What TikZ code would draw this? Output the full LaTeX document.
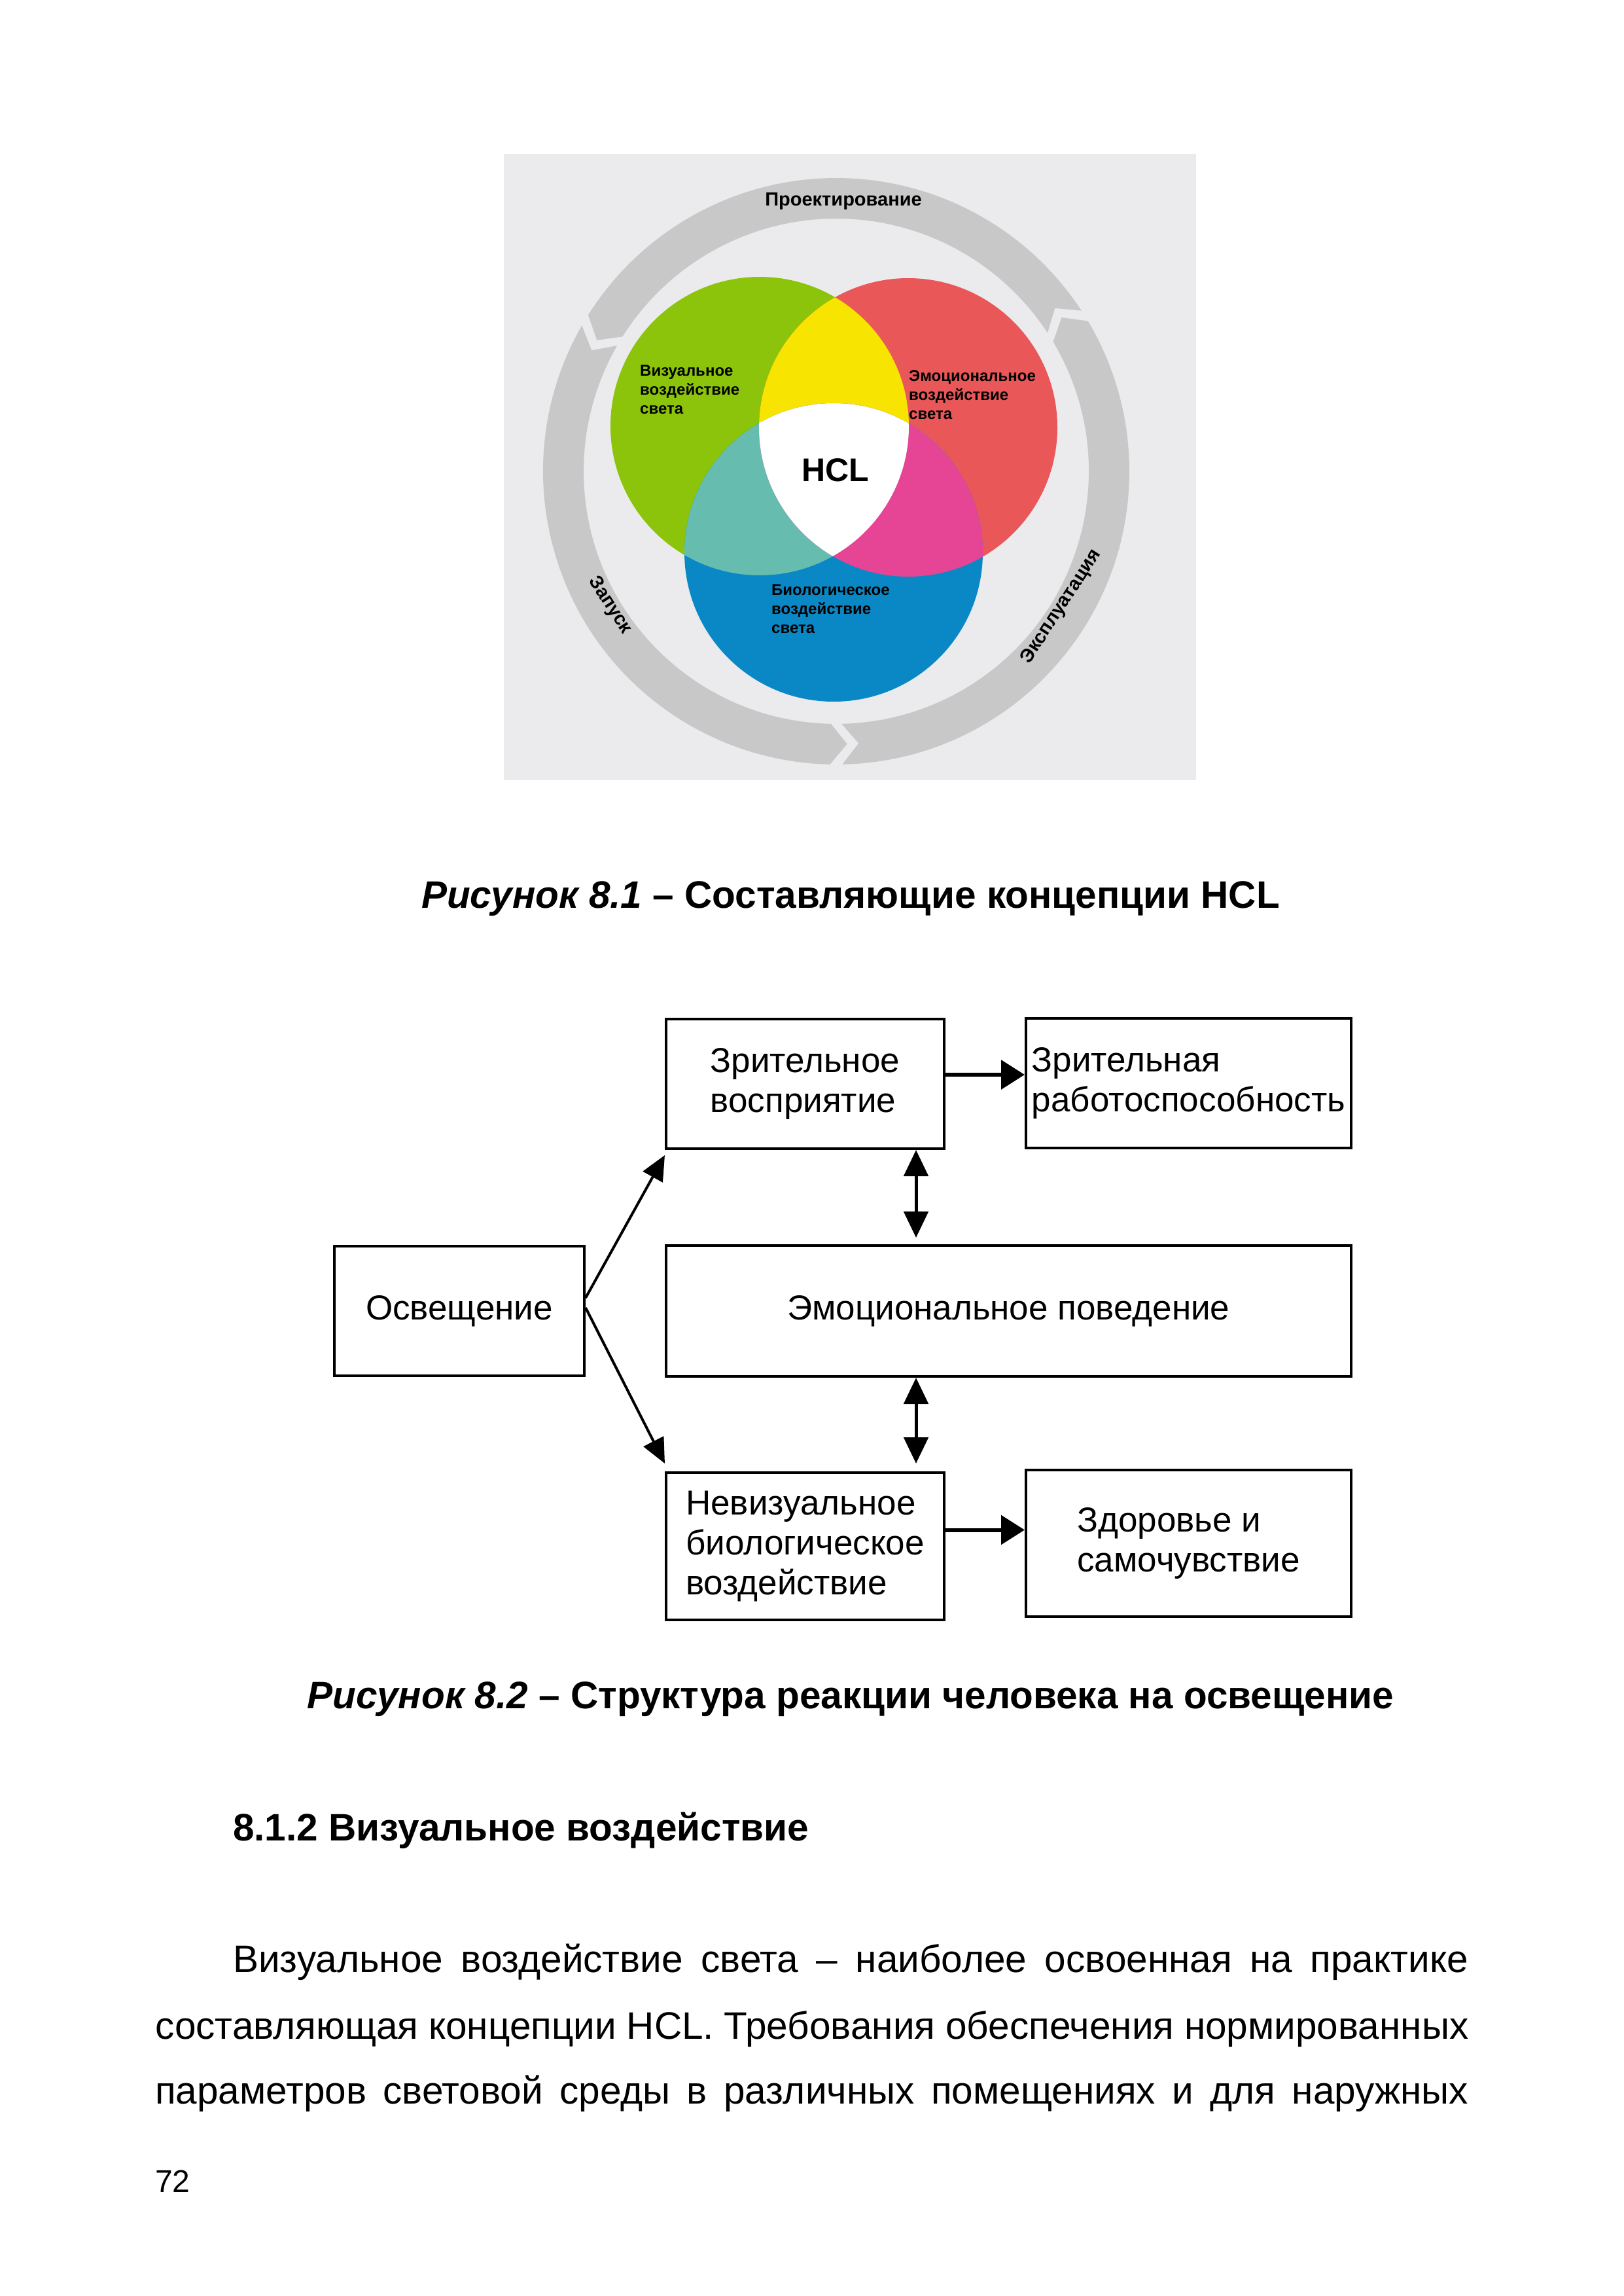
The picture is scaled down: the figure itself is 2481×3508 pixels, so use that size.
\documentclass[tikz,border=0pt]{standalone}
\usepackage{fontspec}
\setmainfont{Liberation Sans}
\usetikzlibrary{arrows.meta,calc}
\definecolor{bggray}{HTML}{EBEBED}
\definecolor{ringgray}{HTML}{C8C8C8}
\definecolor{vgreen}{HTML}{8BC40A}
\definecolor{vred}{HTML}{E95758}
\definecolor{vblue}{HTML}{0A88C5}
\definecolor{vyellow}{HTML}{F7E400}
\definecolor{vteal}{HTML}{66BCAE}
\definecolor{vmag}{HTML}{E64595}
\begin{document}
\begin{tikzpicture}[x=1pt,y=1pt,
  diabox/.style={draw=black,line width=4pt,inner sep=0pt,align=left,font=\fontsize{53}{61}\selectfont},
  lbl/.style={inner sep=0pt,align=left,font=\fontsize{24}{29}\selectfont\bfseries},
  ringlbl/.style={inner sep=0pt,font=\fontsize{29}{34}\selectfont\bfseries},
  captext/.style={inner sep=0pt,font=\fontsize{58.5}{68}\selectfont\bfseries},
  bodytext/.style={inner sep=0pt,anchor=west,font=\fontsize{58.5}{68}\selectfont},
  thinarrow/.style={line width=4pt,-{Triangle[length=38pt,width=34pt]}},
  thickarrow/.style={line width=6pt,-{Triangle[length=36pt,width=44pt]}},
  dblarrow/.style={line width=5pt,{Triangle[length=40pt,width=37pt]}-{Triangle[length=40pt,width=37pt]}}
]
\useasboundingbox (0,0) rectangle (2481,-3508);
\fill[white] (0,0) rectangle (2481,-3508);

% ---------- Figure 8.1 ----------
\fill[bggray] (769.5,-235) rectangle (1827.5,-1192);
\begin{scope}[shift={(1278,-720)}]
  \fill[ringgray] (33.2:448) arc[start angle=33.2,end angle=147.8,radius=448]
     -- (151.3:417) -- (147.8:386) arc[start angle=147.8,end angle=33.2,radius=386]
     -- (36.7:417) -- cycle;
  \fill[ringgray] (150.2:448) arc[start angle=150.2,end angle=268.8,radius=448]
     -- (272.3:417) -- (268.8:386) arc[start angle=268.8,end angle=150.2,radius=386]
     -- (153.7:417) -- cycle;
  \fill[ringgray] (271.2:448) arc[start angle=271.2,end angle=390.8,radius=448]
     -- (394.3:417) -- (390.8:386) arc[start angle=390.8,end angle=271.2,radius=386]
     -- (274.7:417) -- cycle;
\end{scope}
\fill[vgreen] (1161,-651) circle (228);
\fill[vred] (1388,-653) circle (228);
\fill[vblue] (1274,-844) circle (228);
\begin{scope}\clip (1161,-651) circle (228); \fill[vyellow] (1388,-653) circle (228);\end{scope}
\begin{scope}\clip (1161,-651) circle (228); \fill[vteal] (1274,-844) circle (228);\end{scope}
\begin{scope}\clip (1388,-653) circle (228); \fill[vmag] (1274,-844) circle (228);\end{scope}
\begin{scope}\clip (1161,-651) circle (228); \clip (1388,-653) circle (228); \fill[white] (1274,-844) circle (228);\end{scope}

\node[ringlbl] (tproj) at (1289,-308) {Проектирование};
\node[ringlbl,rotate=-57] (tzap) at (932,-925) {Запуск};
\node[ringlbl,rotate=57] (texp) at (1622,-927) {Эксплуатация};
\node[lbl,anchor=west] (tvis) at (978,-595) {Визуальное\\воздействие\\света};
\node[lbl,anchor=west] (temo) at (1389,-603) {Эмоциональное\\воздействие\\света};
\node[lbl,anchor=west] (tbio) at (1179,-930) {Биологическое\\воздействие\\света};
\node[inner sep=0pt,font=\fontsize{50}{60}\selectfont\bfseries] (thcl) at (1277,-718) {HCL};

\node[captext] (cap1) at (1300,-1373) {{\itshape Рисунок 8.1} – Составляющие концепции HCL};

% ---------- Figure 8.2 ----------
\node[diabox,minimum width=382pt,minimum height=198pt] (osv) at (702,-2003) {Освещение};
\node[diabox,minimum width=425pt,minimum height=198pt] (vos) at (1230.5,-1656) {Зрительное\\восприятие};
\node[diabox,minimum width=497pt,minimum height=198pt] (rab) at (1816.5,-1655) {Зрительная\\работоспособность};
\node[diabox,minimum width=1047pt,minimum height=200pt] (emo) at (1541.5,-2003) {Эмоциональное поведение};
\node[diabox,minimum width=425pt,minimum height=225pt] (nev) at (1230.5,-2362.5) {Невизуальное\\биологическое\\воздействие};
\node[diabox,minimum width=497pt,minimum height=224pt] (zdo) at (1816.5,-2358) {Здоровье и\\самочувствие};

\draw[thinarrow] ([yshift=20pt]osv.east) -- ([yshift=-8pt]vos.south west);
\draw[thinarrow] ([yshift=5pt]osv.east) -- ([yshift=12pt]nev.north west);
\draw[thickarrow] ([yshift=14pt]vos.east) -- ([yshift=14pt]vos.east -| rab.west);
\draw[thickarrow] ([yshift=25pt]nev.east) -- ([yshift=25pt]nev.east -| zdo.west);
\draw[dblarrow] ($(vos.south)+(169.5,0)$) -- ($(emo.north -| vos.south)+(169.5,10)$);
\draw[dblarrow] ($(emo.south -| vos.south)+(169.5,0)$) -- ($(nev.north)+(169.5,12)$);

\node[captext] (cap2) at (1300,-2596) {{\itshape Рисунок 8.2} – Структура реакции человека на освещение};

% ---------- Text ----------
\node[bodytext,font=\fontsize{58.5}{68}\selectfont\bfseries] (head) at (356,-2797) {8.1.2 Визуальное воздействие};
\node[bodytext] (l1) at (356,-2998) {\makebox[1888pt][s]{Визуальное воздействие света – наиболее освоенная на практике}};
\node[bodytext] (l2) at (237,-3100) {\makebox[2007pt][s]{составляющая концепции HCL. Требования обеспечения нормированных}};
\node[bodytext] (l3) at (237,-3199) {\makebox[2007pt][s]{параметров световой среды в различных помещениях и для наружных}};
\node[bodytext,font=\fontsize{48}{58}\selectfont] (pnum) at (237,-3333) {72};
\end{tikzpicture}
\end{document}
